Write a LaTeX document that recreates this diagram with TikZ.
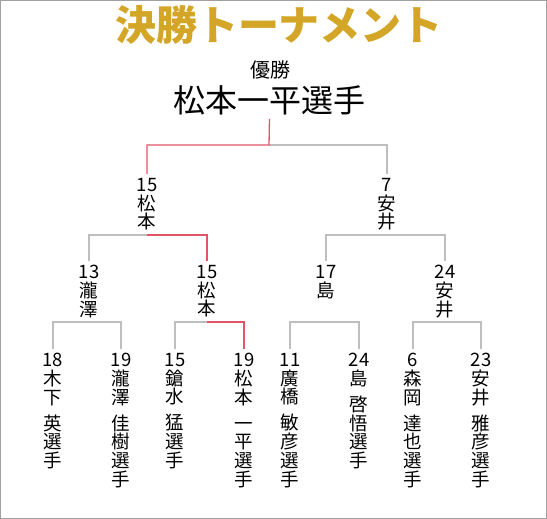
\documentclass[tikz,border=0pt]{standalone}
\usepackage{fontspec}
\setmainfont{Noto Sans CJK JP}
\usepackage{tikz}
\usetikzlibrary{positioning}
\usepackage{xcolor}
\definecolor{titlegold}{RGB}{212,166,40}
\definecolor{winred}{RGB}{226,84,104}
\definecolor{linegray}{RGB}{190,190,190}
\definecolor{framegray}{RGB}{160,160,160}

\tikzset{
  player/.style={anchor=north, inner sep=4pt, align=center, font=\fontsize{18.5}{18.8}\selectfont},
  winline/.style={draw=winred, line width=1.3pt},
  loseline/.style={draw=linegray, line width=1.3pt}
}

\begin{document}
\begin{tikzpicture}[x=1pt, y=-1pt]
\useasboundingbox (0,0) rectangle (547,519);
\draw[framegray, line width=1pt] (0.5,0.5) rectangle (546.5,518.5);

% title and champion
\node[font=\fontsize{41}{41}\selectfont\bfseries, text=titlegold] (title) at (279,25) {決勝トーナメント};
\node[font=\fontsize{20}{20}\selectfont] (yusho) at (270,70) {優勝};
\node[font=\fontsize{32}{32}\selectfont, inner sep=4pt] (champ) at (269.5,100) {松本一平選手};

% final
\node[player] (f1) at (147,174) {15\\松\\本};
\node[player] (f2) at (387,174) {7\\安\\井};

% semi finals
\node[player] (s1) at (89,261) {13\\瀧\\澤};
\node[player] (s2) at (207,261) {15\\松\\本};
\node[player] (s3) at (326,261) {17\\島};
\node[player] (s4) at (445,261) {24\\安\\井};

% first round
\node[player] (q1) at (53,349) {18\\木\\下\\[7pt]英\\選\\手};
\node[player] (q2) at (121,349) {19\\瀧\\澤\\[7pt]佳\\樹\\選\\手};
\node[player] (q3) at (175,349) {15\\鎗\\水\\[7pt]猛\\選\\手};
\node[player] (q4) at (244,349) {19\\松\\本\\[7pt]一\\平\\選\\手};
\node[player] (q5) at (290,349) {11\\廣\\橋\\[7pt]敏\\彦\\選\\手};
\node[player] (q6) at (359,349) {24\\島\\[7pt]啓\\悟\\選\\手};
\node[player] (q7) at (413,349) {6\\森\\岡\\[7pt]達\\也\\選\\手};
\node[player] (q8) at (481,349) {23\\安\\井\\[7pt]雅\\彦\\選\\手};

% bracket corners
\coordinate (j0) at (269,145);
\coordinate (j1) at (147,235);
\coordinate (j2) at (387,235);
\coordinate (k1) at (89,322);
\coordinate (k2) at (207,322);
\coordinate (k3) at (326,322);
\coordinate (k4) at (445,322);

\draw[loseline] (j0) -| (f2.north);
\draw[winline] (champ.south) -- (j0) -| (f1.north);

\draw[loseline] (s1.north) |- (j1);
\draw[winline] (j1) -| (s2.north);
\draw[loseline] (s3.north) |- (j2) -| (s4.north);

\draw[loseline] (q1.north) |- (k1) -| (q2.north);
\draw[loseline] (q3.north) |- (k2);
\draw[winline] (k2) -| (q4.north);
\draw[loseline] (q5.north) |- (k3) -| (q6.north);
\draw[loseline] (q7.north) |- (k4) -| (q8.north);
\end{tikzpicture}
\end{document}
